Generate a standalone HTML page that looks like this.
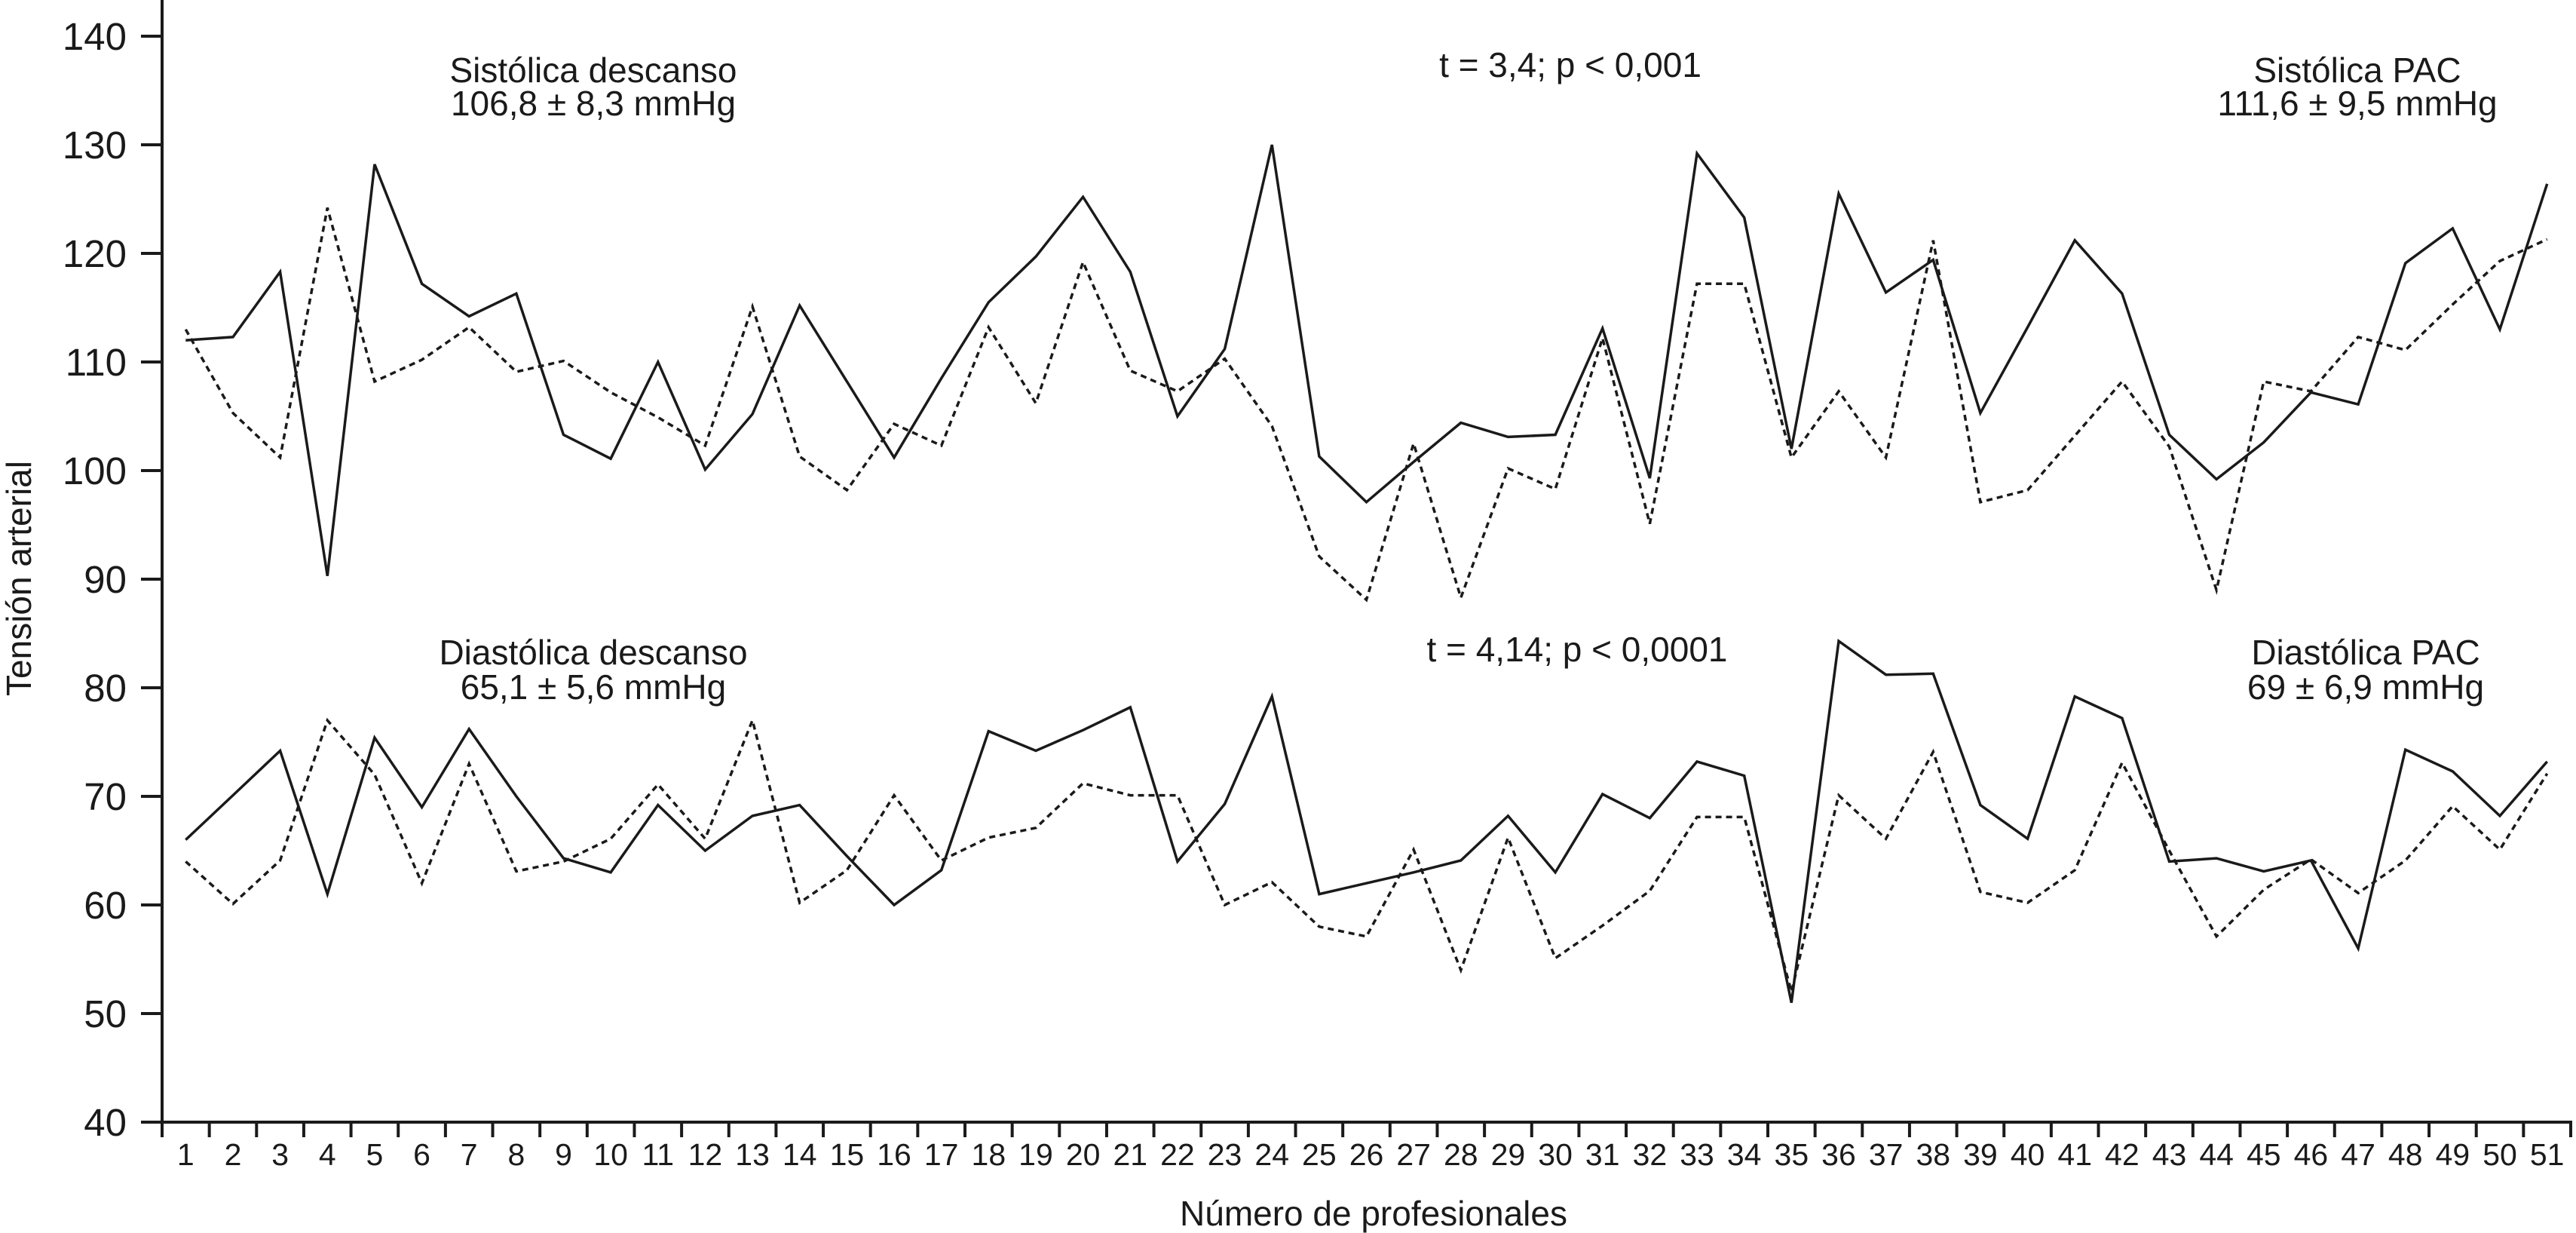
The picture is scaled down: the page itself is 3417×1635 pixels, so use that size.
<!DOCTYPE html>
<html><head><meta charset="utf-8"><style>
html,body{margin:0;padding:0;background:#fff;}
svg{display:block;font-family:"Liberation Sans",Arial,sans-serif;fill:#1a1a1a;}
</style></head><body>
<svg id="chart" width="3417" height="1635" viewBox="0 0 3417 1635" xmlns="http://www.w3.org/2000/svg">
<g id="axes"></g>
<g id="series"></g>
<g font-size="46" text-anchor="middle">
<text x="787" y="109">Sistólica descanso</text>
<text x="787" y="153">106,8 ± 8,3 mmHg</text>
<text x="2083" y="102">t = 3,4; p &lt; 0,001</text>
<text x="3127" y="109">Sistólica PAC</text>
<text x="3127" y="153">111,6 ± 9,5 mmHg</text>
<text x="787" y="881">Diastólica descanso</text>
<text x="787" y="927">65,1 ± 5,6 mmHg</text>
<text x="2092" y="877">t = 4,14; p &lt; 0,0001</text>
<text x="3138" y="881">Diastólica PAC</text>
<text x="3138" y="927">69 ± 6,9 mmHg</text>
<text x="1822" y="1625">Número de profesionales</text>
<text transform="translate(41,767) rotate(-90)">Tensión arterial</text>
</g>
</svg>
<script>
const categories = Array.from({length:51},(_,i)=>i+1);
const yTicks = [40,50,60,70,80,90,100,110,120,130,140];
const sysPac = [112,112.3,118.3,90.3,128.2,117.2,114.2,116.3,103.3,101.1,110,100.1,105.2,115.2,108.2,101.2,108.5,115.5,119.7,125.2,118.3,105,111.2,130,101.3,97.1,100.8,104.4,103.1,103.3,113.1,99.3,129.2,123.3,102,125.5,116.4,119.4,105.3,113.2,121.2,116.3,103.3,99.2,102.6,107.2,106.1,119.1,122.3,113,126.4];
const sysRest = [113,105.3,101.2,124.2,108.2,110.2,113.2,109.1,110.1,107.2,104.9,102.3,115.1,101.3,98.2,104.3,102.3,113.2,106.2,119.2,109.2,107.3,110.3,104.1,92.1,88.1,102.5,88.3,100.2,98.3,112.2,95.1,117.2,117.2,101.2,107.3,101.2,121.2,97.1,98.2,103.2,108.2,102.2,89,108.2,107.3,112.3,111.1,115.3,119.3,121.3];
const diaPac = [66,70.1,74.2,61,75.4,69,76.2,70,64.3,63,69.2,65,68.2,69.2,64.5,60,63.2,76,74.2,76.1,78.2,64,69.3,79.2,61,62,63,64.1,68.2,63,70.2,68,73.2,71.9,51,84.3,81.2,81.3,69.2,66.1,79.2,77.2,64,64.3,63.1,64.1,56,74.3,72.3,68.2,73.2];
const diaRest = [64,60.1,64.1,77,72,62,73,63.1,64,66.1,71.1,66.1,77,60.2,63.2,70.1,64.1,66.2,67.1,71.2,70.1,70.1,60,62.1,58,57.1,65.1,54,66.2,55.1,58.1,61.3,68.1,68.1,52,70.1,66.1,74.1,61.2,60.2,63.2,73.1,65,57.1,61.4,64.2,61.1,64.1,69.1,65.1,72.1];

const NS="http://www.w3.org/2000/svg";
const X0=215, STEP=(3410-215)/51, Y40=1488, PPU=14.4;
const xs=i=>X0+(i-0.5)*STEP;
const ys=v=>Y40-(v-40)*PPU;
function mk(tag,attrs,parent){const e=document.createElementNS(NS,tag);for(const k in attrs)e.setAttribute(k,attrs[k]);parent.appendChild(e);return e;}
const axes=document.getElementById('axes');
let a=mk('line',{x1:X0,y1:0,x2:X0,y2:Y40,stroke:'#1a1a1a','stroke-width':4},axes);


a=mk('line',{x1:187,y1:Y40,x2:3412,y2:Y40,stroke:'#1a1a1a','stroke-width':4},axes);


yTicks.forEach(v=>{
  const t=mk('line',{x1:187,y1:ys(v),x2:X0,y2:ys(v),stroke:'#1a1a1a','stroke-width':4},axes);
  
  
  const l=mk('text',{x:168,y:ys(v)+18,'text-anchor':'end','font-size':51},axes);
  l.textContent=v;
  
  
});
for(let k=0;k<=51;k++){
  const x=X0+k*STEP;
  const t=mk('line',{x1:x,y1:Y40,x2:x,y2:1508,stroke:'#1a1a1a','stroke-width':4},axes);
  
  
}
categories.forEach(c=>{
  const l=mk('text',{x:xs(c),y:1545,'text-anchor':'middle','font-size':41},axes);
  l.textContent=c;
  
  
});
const ser=document.getElementById('series');
function line(data,dashed,name){
  const d=data.map((v,i)=>(i?'L':'M')+xs(categories[i]).toFixed(1)+' '+ys(v).toFixed(1)).join(' ');
  const p=mk('path',{d:d,fill:'none',stroke:'#1a1a1a','stroke-width':3.5,'stroke-linejoin':'miter'},ser);
  if(dashed)p.setAttribute('stroke-dasharray','8 6');
  
  
}
line(sysPac,false,'systolic-pac-line');
line(sysRest,true,'systolic-rest-line');
line(diaPac,false,'diastolic-pac-line');
line(diaRest,true,'diastolic-rest-line');
</script>
</body></html>
